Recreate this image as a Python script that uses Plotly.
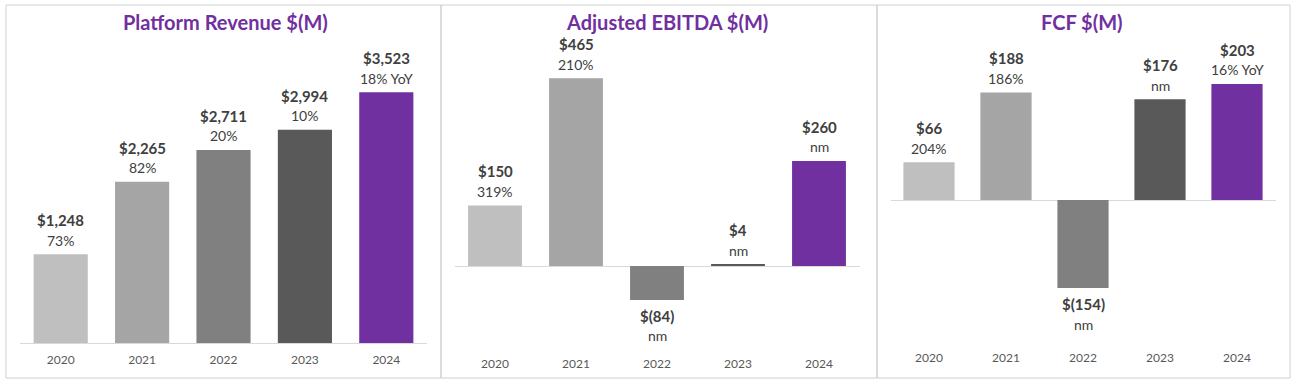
import plotly.graph_objects as go

years = ["2020", "2021", "2022", "2023", "2024"]
revenue = [1248, 2265, 2711, 2994, 3523]
revenue_growth = ["73%", "82%", "20%", "10%", "18% YoY"]
ebitda = [150, 465, -84, 4, 260]
ebitda_growth = ["319%", "210%", "nm", "nm", "nm"]
fcf = [66, 188, -154, 176, 203]
fcf_growth = ["204%", "186%", "nm", "nm", "16% YoY"]
titles = ["Platform Revenue $(M)", "Adjusted EBITDA $(M)", "FCF $(M)"]
bar_colors = ["#BFBFBF", "#A5A5A5", "#808080", "#595959", "#7030A0"]

W, H = 1298, 386
FONT = "Lato"
TXT = "#404040"
PURPLE = "#7030A0"


def money(v):
    return f"${v:,}" if v >= 0 else f"$({-v:,})"


def px_x(x):
    return x / W


def px_y(y):
    return 1 - y / H


panels = [
    dict(vals=revenue, gr=revenue_growth, xd=(20, 427), top=40, bottom=343, base=343, scale=0.0712,
         border=(6, 441), title_x=225),
    dict(vals=ebitda, gr=ebitda_growth, xd=(454.5, 859.5), top=24, bottom=349, base=266, scale=0.404,
         border=(441, 877), title_x=667),
    dict(vals=fcf, gr=fcf_growth, xd=(890.5, 1275.5), top=24, bottom=343, base=200, scale=0.572,
         border=(877, 1290), title_x=1082),
]

fig = go.Figure()
annotations = []
shapes = []
layout_axes = {}
for i, p in enumerate(panels):
    n = "" if i == 0 else str(i + 1)
    fig.add_trace(go.Bar(
        x=years, y=p["vals"], marker=dict(color=bar_colors, line=dict(width=0)),
        width=0.665, xaxis="x" + n, yaxis="y" + n, showlegend=False,
    ))
    rmin = -(p["bottom"] - p["base"]) / p["scale"]
    rmax = (p["base"] - p["top"]) / p["scale"]
    layout_axes["xaxis" + n] = dict(
        type="category", categoryorder="array", categoryarray=years, range=[-0.5, 4.5],
        domain=[px_x(p["xd"][0]), px_x(p["xd"][1])], anchor="y" + n,
        showgrid=False, zeroline=False, showline=(i == 0), linecolor="#D9D9D9", linewidth=1,
        ticks="", tickfont=dict(family=FONT, size=12, color="#595959"), ticklabelstandoff=6,
        fixedrange=True,
    )
    layout_axes["yaxis" + n] = dict(
        domain=[px_y(p["bottom"]), px_y(p["top"])], anchor="x" + n,
        range=[rmin, rmax], showgrid=False, showticklabels=False, showline=False,
        zeroline=(i != 0), zerolinecolor="#D9D9D9", zerolinewidth=1, fixedrange=True,
    )
    for k, (v, g) in enumerate(zip(p["vals"], p["gr"])):
        pos = v >= 0
        # category index k locates the bar for years[k] on the category axis
        annotations.append(dict(
            x=k, y=v, xref="x" + n, yref="y" + n, text=f"<b>{money(v)}</b>", showarrow=False,
            yanchor="middle", yshift=34 if pos else -16,
            font=dict(family=FONT, size=15, color=TXT),
        ))
        annotations.append(dict(
            x=k, y=v, xref="x" + n, yref="y" + n, text=g, showarrow=False,
            yanchor="middle", yshift=14 if pos else -36,
            font=dict(family=FONT, size=14, color=TXT),
        ))
    annotations.append(dict(
        x=px_x(p["title_x"]), y=px_y(22), xref="paper", yref="paper", text=f"<b>{titles[i]}</b>",
        showarrow=False, xanchor="center", yanchor="middle",
        font=dict(family=FONT, size=20, color=PURPLE),
    ))
    shapes.append(dict(
        type="rect", xref="paper", yref="paper",
        x0=px_x(p["border"][0]), x1=px_x(p["border"][1]), y0=px_y(378), y1=px_y(5),
        line=dict(color="#D0D0D0", width=1), fillcolor="rgba(0,0,0,0)", layer="below",
    ))

fig.update_layout(
    width=W, height=H, autosize=False,
    margin=dict(l=0, r=0, t=0, b=0),
    paper_bgcolor="white", plot_bgcolor="white",
    annotations=annotations, shapes=shapes,
    font=dict(family=FONT, color=TXT),
    **layout_axes,
)

fig.write_html("out.html", config={"displayModeBar": False},
               post_script="document.body.style.margin='0';")
